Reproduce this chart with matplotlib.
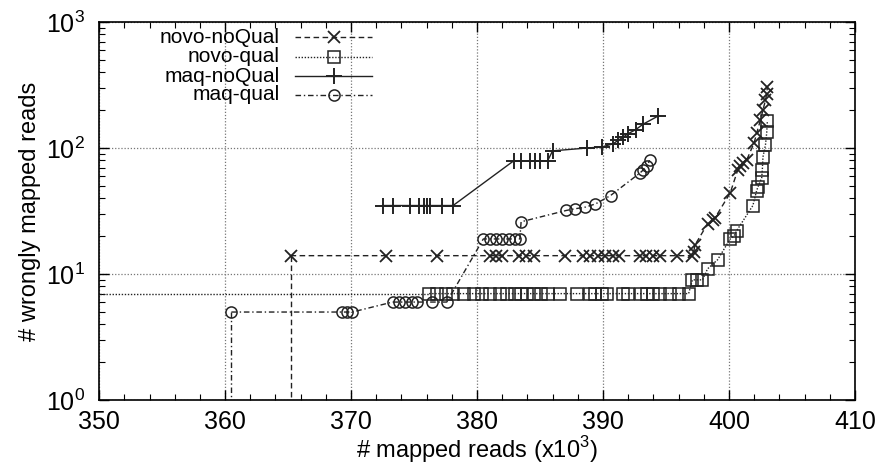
import numpy as np
import matplotlib
matplotlib.use("Agg")
import matplotlib.pyplot as plt
from matplotlib.lines import Line2D
from matplotlib.ticker import MultipleLocator, LogLocator, NullFormatter

plt.rcParams['font.family'] = ['Liberation Sans', 'DejaVu Sans']
plt.rcParams['mathtext.fontset'] = 'custom'
plt.rcParams['mathtext.rm'] = 'Liberation Sans'

# x in thousands of mapped reads
nn_x = [365.2, 372.8, 376.8, 381.0, 381.5, 382.0, 383.3, 383.9, 384.5, 387.0,
        388.4, 389.0, 389.6, 390.2, 390.8, 391.3, 392.9, 393.4, 394.0, 394.5,
        395.9, 397.1, 397.2, 397.3, 398.3, 398.7, 398.9, 400.1, 400.7, 400.9,
        401.1, 401.4, 402.0, 402.2, 402.5, 402.7, 402.9, 403.0, 403.05]
nn_y = [14, 14, 14, 14, 14, 14, 14, 14, 14, 14,
        14, 14, 14, 14, 14, 14, 14, 14, 14, 14,
        14, 14, 15, 17, 25, 27, 28, 44, 67, 72,
        76, 80, 110, 131, 167, 200, 240, 270, 305]

nq_x = [376.2, 376.8, 377.5, 378.1, 379.0, 379.8, 380.4, 381.0, 381.8, 382.4,
        383.0, 383.5, 384.0, 384.5, 385.1, 385.6, 386.6, 387.9, 389.0, 389.4,
        389.9, 390.3, 391.6, 392.0, 393.0, 393.5, 394.0, 394.5, 395.3, 396.0,
        396.8, 397.1, 397.5, 397.9, 398.3, 399.1, 400.1, 400.4, 400.6, 401.9,
        402.2, 402.3, 402.6, 402.65, 402.7, 402.9, 403.0, 403.05]
nq_y = [7, 7, 7, 7, 7, 7, 7, 7, 7, 7,
        7, 7, 7, 7, 7, 7, 7, 7, 7, 7,
        7, 7, 7, 7, 7, 7, 7, 7, 7, 7,
        7, 9, 9, 9, 11, 13, 19, 20, 22, 35,
        46, 49, 58, 67, 85, 106, 133, 164]

mn_x = [372.5, 373.3, 374.7, 375.4, 375.8, 376.0, 376.3, 377.2, 378.1,
        382.9, 383.5, 384.2, 384.6, 385.0, 385.6, 386.0, 388.7, 389.9,
        390.8, 391.2, 391.6, 392.0, 392.6, 393.2, 394.4]
mn_y = [35, 35, 35, 35, 35, 35, 35, 35, 35,
        79, 79, 79, 79, 79, 79, 95, 100, 102,
        108, 115, 122, 130, 140, 155, 180]

mq_x = [360.5, 369.3, 369.7, 370.1, 373.3, 373.8, 374.3, 374.8, 375.2, 376.4,
        377.6, 380.5, 381.0, 381.5, 382.0, 382.5, 383.0, 383.4, 383.5, 387.1,
        387.8, 388.6, 389.4, 390.6, 392.9, 393.2, 393.5, 393.7]
mq_y = [5, 5, 5, 5, 6, 6, 6, 6, 6, 6,
        6, 19, 19, 19, 19, 19, 19, 19, 26, 32,
        33, 34, 36, 42, 63, 67, 72, 80]

names = ['novo-noQual', 'novo-qual', 'maq-noQual', 'maq-qual']

fig = plt.figure(figsize=(8.85, 4.68), dpi=100)
ax = fig.add_axes([0.112, 0.145, 0.854, 0.808])

ax.set_yscale('log')
ax.set_xlim(350, 410)
ax.set_ylim(1, 1000)

ax.grid(True, which='major', color='#777777', linestyle=(0, (1, 1.5)), linewidth=0.9)

c = '#222222'
styles = [
    dict(ls=(0, (4, 2.5)), marker='x', ms=8, mew=1.3),
    dict(ls=(0, (1, 1.2)), marker='s', ms=9, mew=1.1),
    dict(ls='-', marker='+', ms=11, mew=1.4),
    dict(ls=(0, (4, 2, 1, 2)), marker='o', ms=8, mew=1.1),
]
series = [(nn_x, nn_y), (nq_x, nq_y), (mn_x, mn_y), (mq_x, mq_y)]
for (xs, ys), st in zip(series, styles):
    ax.plot(xs, ys, color=c, lw=1.0, mfc='none', **st)

# lines from the first points to the axis (first points of the curves)
ax.plot([nn_x[0], nn_x[0]], [nn_y[0], 0.5], color=c, lw=1.0, ls=styles[0]['ls'])
ax.plot([mq_x[0], mq_x[0]], [mq_y[0], 0.5], color=c, lw=1.0, ls=styles[3]['ls'])
ax.plot([340, nq_x[0]], [nq_y[0], nq_y[0]], color=c, lw=1.0, ls=styles[1]['ls'])

# gnuplot style key: right aligned text, sample to the right
rows = [0.960, 0.908, 0.857, 0.807]
for name, st, yy in zip(names, styles, rows):
    ax.text(0.239, yy, name, transform=ax.transAxes, ha='right', va='center',
            fontsize=15)
    ax.add_line(Line2D([0.259, 0.361], [yy, yy], transform=ax.transAxes,
                       color=c, lw=1.0, ls=st['ls']))
    ax.add_line(Line2D([0.311], [yy], transform=ax.transAxes, color=c, ls='none',
                       marker=st['marker'], ms=st['ms'], mew=st['mew'], mfc='none'))

ax.xaxis.set_major_locator(MultipleLocator(10))
ax.xaxis.set_minor_locator(MultipleLocator(2))
ax.yaxis.set_major_locator(LogLocator(base=10, numticks=10))
ax.yaxis.set_minor_locator(LogLocator(base=10, subs=np.arange(2, 10), numticks=10))
ax.yaxis.set_minor_formatter(NullFormatter())
ax.tick_params(which='both', direction='in', top=True, right=True, labelsize=18)
ax.tick_params(axis='x', which='both', pad=7)
ax.tick_params(axis='y', which='both', pad=10)
ax.tick_params(which='major', length=7, width=1.0)
ax.tick_params(which='minor', length=4, width=0.8)
for s in ax.spines.values():
    s.set_linewidth(1.2)

ax.set_xlabel('# mapped reads (x10$^3$)', fontsize=17, labelpad=0)
ax.set_ylabel('# wrongly mapped reads', fontsize=17, labelpad=4)

fig.savefig('out.png', dpi=100)
